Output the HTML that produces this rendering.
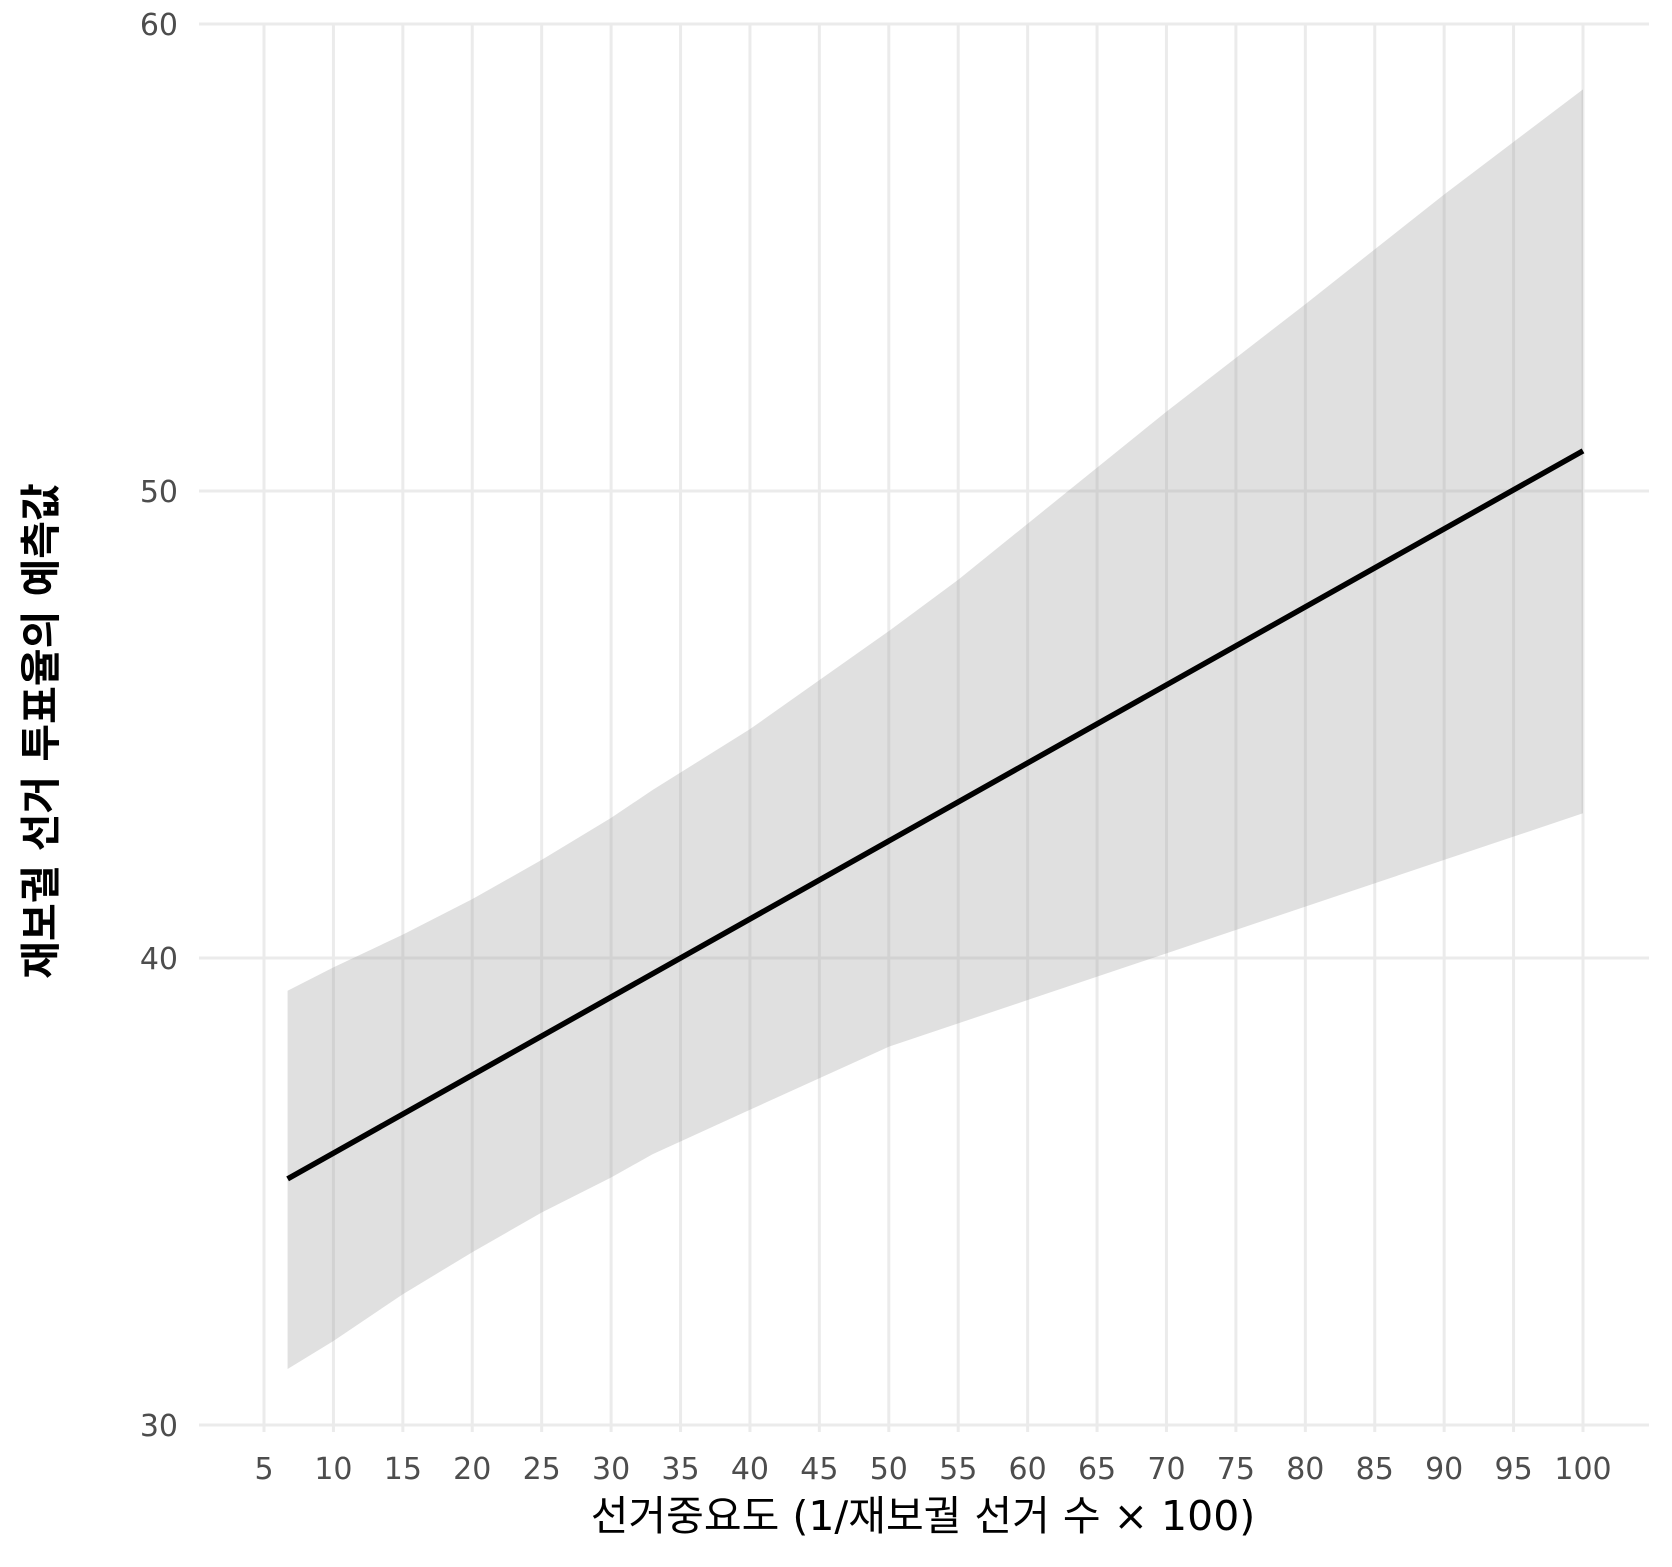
<!DOCTYPE html>
<html><head><meta charset="utf-8"><style>
html,body{margin:0;padding:0;background:#fff;}
svg{display:block;font-family:"DejaVu Sans","Noto Sans CJK KR",sans-serif;}
</style></head><body>
<svg id="chart" width="1672" height="1567" viewBox="0 0 1672 1567">
<g id="grid"></g>
<g id="ribbon"></g>
<g id="line"></g>
<g id="xt"></g>
<g id="yt"></g>
<text x="923" y="1530" font-size="41" fill="#000" text-anchor="middle">선거중요도 (1/재보궐 선거 수 × 100)</text>
<text transform="translate(55,731) rotate(-90)" font-size="41" font-weight="bold" fill="#000" text-anchor="middle">재보궐 선거 투표율의 예측값</text>
</svg>
<script>
const xTicks=[5,10,15,20,25,30,35,40,45,50,55,60,65,70,75,80,85,90,95,100];
const yTicks=[30,40,50,60];
const bandX=[6.7,10,15,20,25,30,33,40,50,55,60,70,80,90,100];
const bandUpper=[39.3,39.8,40.5,41.26,42.1,43.0,43.6,44.9,47.0,48.1,49.3,51.7,54.0,56.35,58.6];
const bandLower=[31.2,31.8,32.8,33.7,34.55,35.3,35.8,36.75,38.1,38.6,39.1,40.1,41.1,42.1,43.1];
const lineX=[6.7,100];
const lineY=[35.27,50.86];
const NS="http://www.w3.org/2000/svg";
const X=v=>264+(v-5)*(1583-264)/95;
const Y=v=>1425-(v-30)*(1425-24)/30;
function mk(t,a,p){const e=document.createElementNS(NS,t);for(const k in a)e.setAttribute(k,a[k]);p.appendChild(e);return e;}
const g=document.getElementById('grid'),xt=document.getElementById('xt'),yt=document.getElementById('yt');
xTicks.forEach(v=>{
 const l=mk('line',{x1:X(v),x2:X(v),y1:24,y2:1432,stroke:'#ebebeb','stroke-width':3},g);
 
 
 const t=mk('text',{x:X(v),y:1479,'font-size':30,fill:'#4d4d4d','text-anchor':'middle'},xt);
 t.textContent=v;
 
 
});
yTicks.forEach(v=>{
 const l=mk('line',{x1:199,x2:1649,y1:Y(v),y2:Y(v),stroke:'#ebebeb','stroke-width':3},g);
 
 
 const t=mk('text',{x:178,y:Y(v)+11,'font-size':30,fill:'#4d4d4d','text-anchor':'end'},yt);
 t.textContent=v;
 
 
});
let d='';
bandX.forEach((v,i)=>{d+=(i?'L':'M')+X(v)+','+Y(bandUpper[i]);});
for(let i=bandX.length-1;i>=0;i--)d+='L'+X(bandX[i])+','+Y(bandLower[i]);
const p=mk('path',{d:d+'Z',fill:'#999','fill-opacity':0.3},document.getElementById('ribbon'));


let ld='';
lineX.forEach((v,i)=>{ld+=(i?'L':'M')+X(v)+','+Y(lineY[i]);});
const ln=mk('path',{d:ld,fill:'none',stroke:'#000','stroke-width':5.5},document.getElementById('line'));


</script>
</body></html>
